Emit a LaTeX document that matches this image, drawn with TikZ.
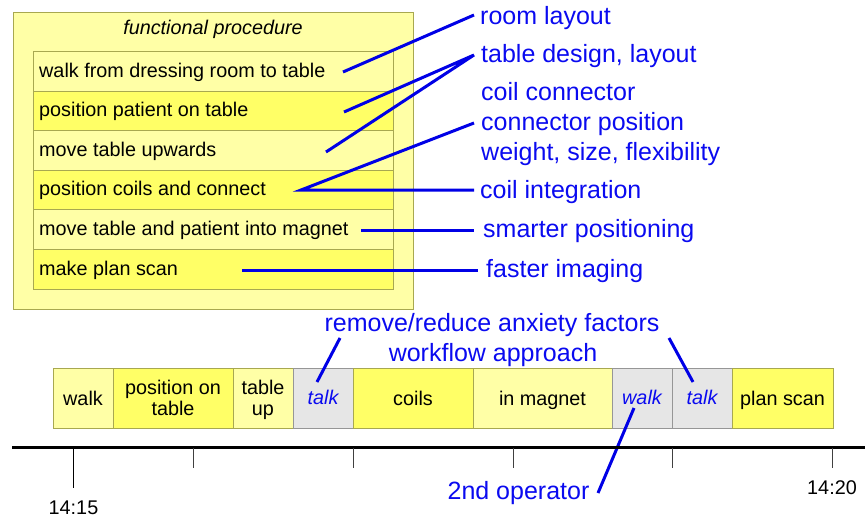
\documentclass[tikz,border=0pt]{standalone}
\usepackage{fontspec}
\setmainfont{Liberation Sans}
\definecolor{lightY}{HTML}{FFFFA6}
\definecolor{darkY}{HTML}{FFFF66}
\definecolor{olive}{HTML}{A8A850}
\definecolor{grayF}{HTML}{E6E6E6}
\definecolor{grayB}{HTML}{969696}
\definecolor{myblue}{HTML}{0A0AF0}
\definecolor{lineblue}{HTML}{0000E6}
\tikzset{
  rowbox/.style={draw=olive, line width=1pt, minimum width=360pt, minimum height=39.5pt, inner sep=0pt, outer sep=0pt},
  rowtext/.style={anchor=base west, inner sep=0pt, font=\fontsize{19.8}{21}\selectfont, text=black},
  lbl/.style={anchor=base west, inner sep=0pt, font=\fontsize{25}{27}\selectfont, text=myblue},
  blbl/.style={anchor=base, inner sep=0pt, font=\fontsize{25}{27}\selectfont, text=myblue},
  conn/.style={draw=lineblue, line width=3pt},
  bar/.style={draw=olive, line width=1pt, inner sep=0pt, outer sep=0pt, minimum height=59.5pt},
  graybar/.style={draw=grayB, fill=grayF, line width=1pt, inner sep=0pt, outer sep=0pt, minimum height=59.5pt},
  bartext/.style={anchor=base, inner sep=0pt, font=\fontsize{19.8}{21}\selectfont, text=black},
  talktext/.style={anchor=base, inner sep=0pt, font=\fontsize{19.8}{21}\selectfont\itshape, text=myblue},
  tick/.style={draw=black!75, line width=1pt},
}
\begin{document}
\begin{tikzpicture}[x=1pt,y=-1pt]
\useasboundingbox (0,0) rectangle (865,517);
% outer box
\node[draw=olive, fill=lightY, line width=1pt, minimum width=400pt, minimum height=297pt, inner sep=0pt] (outer) at (213,160.5) {};
\node[anchor=base, inner sep=0pt, font=\fontsize{19.8}{21}\selectfont\itshape] (title) at (213,34.3) {functional procedure};
% rows
\node[rowbox, fill=lightY] (r1) at (213,71.5) {};
\node[rowbox, fill=darkY]  (r2) at (213,111) {};
\node[rowbox, fill=lightY] (r3) at (213,150.5) {};
\node[rowbox, fill=darkY]  (r4) at (213,190) {};
\node[rowbox, fill=lightY] (r5) at (213,229.5) {};
\node[rowbox, fill=darkY]  (r6) at (213,269.5) {};
\node[rowtext] (t1) at (39,77.3) {walk from dressing room to table};
\node[rowtext] (t2) at (39,116.8) {position patient on table};
\node[rowtext] (t3) at (39,156.3) {move table upwards};
\node[rowtext] (t4) at (39,195.8) {position coils and connect};
\node[rowtext] (t5) at (39,235.3) {move table and patient into magnet};
\node[rowtext] (t6) at (39,275.3) {make plan scan};
% right labels
\node[lbl] (L1) at (480,24.3) {room layout};
\node[lbl] (L2) at (481,62.7) {table design, layout};
\node[lbl] (L3) at (481,100.7) {coil connector};
\node[lbl] (L4) at (481,130.7) {connector position};
\node[lbl] (L5) at (481,160.7) {weight, size, flexibility};
\node[lbl] (L6) at (480,198.3) {coil integration};
\node[lbl] (L7) at (483,237.3) {smarter positioning};
\node[lbl] (L8) at (486,277.3) {faster imaging};
% connector end points
\coordinate (e1) at (474,15);
\coordinate (e2) at (474,55);
\coordinate (e4) at (474,123);
\coordinate (e6) at (474,190);
\coordinate (e7) at (474,230);
\coordinate (e8) at (478,270);
\coordinate (s1) at (343,72);
\coordinate (s2) at (344,112);
\coordinate (s3) at (326,152);
\coordinate (s4) at (301,190);
\coordinate (s5) at (361,230);
\coordinate (s6) at (242,270);
\draw[conn] (s1) -- (e1);
\draw[conn] (s2) -- (e2) -- (s3);
\draw[conn] (e4) -- (s4) -- (e6);
\draw[conn] (s5) -- (e7);
\draw[conn] (s6) -- (e8);
% bottom bar
\node[bar, fill=lightY, minimum width=60pt]  (b1) at (83,398.5) {};
\node[bar, fill=darkY,  minimum width=120pt] (b2) at (173,398.5) {};
\node[bar, fill=lightY, minimum width=60pt]  (b3) at (263,398.5) {};
\node[graybar, minimum width=60pt]           (b4) at (323,398.5) {};
\node[bar, fill=darkY,  minimum width=120pt] (b5) at (413,398.5) {};
\node[bar, fill=lightY, minimum width=139pt] (b6) at (542.5,398.5) {};
\node[graybar, minimum width=60pt]           (b7) at (642,398.5) {};
\node[graybar, minimum width=60pt]           (b8) at (702,398.5) {};
\node[bar, fill=darkY,  minimum width=101pt] (b9) at (782.5,398.5) {};
\draw[draw=olive, line width=1pt] (b6.north east) -- (b7.north west);
\node[bartext] (bt1) at (83,405) {walk};
\node[bartext] (bt2a) at (173,394.5) {position on};
\node[bartext] (bt2b) at (173,415.2) {table};
\node[bartext] (bt3a) at (263,394.5) {table};
\node[bartext] (bt3b) at (263,415.2) {up};
\node[talktext] (bt4) at (323,404.5) {talk};
\node[bartext] (bt5) at (413,405) {coils};
\node[bartext] (bt6) at (542.5,405) {in magnet};
\node[talktext] (bt7) at (642,404.5) {walk};
\node[talktext] (bt8) at (702,404.5) {talk};
\node[bartext] (bt9) at (782.5,405) {plan scan};
% bottom labels
\node[blbl] (A1) at (492,331.7) {remove/reduce anxiety factors};
\node[blbl] (A2) at (493,361.7) {workflow approach};
\node[blbl] (A3) at (518.5,499) {2nd operator};
\coordinate (a1s) at (317,382);
\coordinate (a1e) at (340,338);
\coordinate (a2s) at (693,382);
\coordinate (a2e) at (669,338);
\coordinate (a3s) at (634,408);
\coordinate (a3e) at (598,493);
\draw[conn] (a1s) -- (a1e);
\draw[conn] (a2s) -- (a2e);
\draw[conn] (a3s) -- (a3e);
% timeline
\coordinate (tl0) at (12,447.5);
\coordinate (tl1) at (865,447.5);
\draw[line width=3.7pt, black] (tl0) -- (tl1);
\coordinate (k0) at (73.5,447.5); \coordinate (k0e) at (73.5,488);
\coordinate (k1) at (193,447.5); \coordinate (k1e) at (193,468);
\coordinate (k2) at (353,447.5); \coordinate (k2e) at (353,468);
\coordinate (k3) at (513,447.5); \coordinate (k3e) at (513,468);
\coordinate (k4) at (672.5,447.5); \coordinate (k4e) at (672.5,468);
\coordinate (k5) at (832.5,447.5); \coordinate (k5e) at (832.5,468);
\draw[line width=1pt, black] (k0) -- (k0e);
\draw[tick] (k1) -- (k1e);
\draw[tick] (k2) -- (k2e);
\draw[tick] (k3) -- (k3e);
\draw[tick] (k4) -- (k4e);
\draw[tick] (k5) -- (k5e);
\node[bartext] (time1) at (73.5,514) {14:15};
\node[bartext] (time2) at (832,494) {14:20};
\end{tikzpicture}
\end{document}
